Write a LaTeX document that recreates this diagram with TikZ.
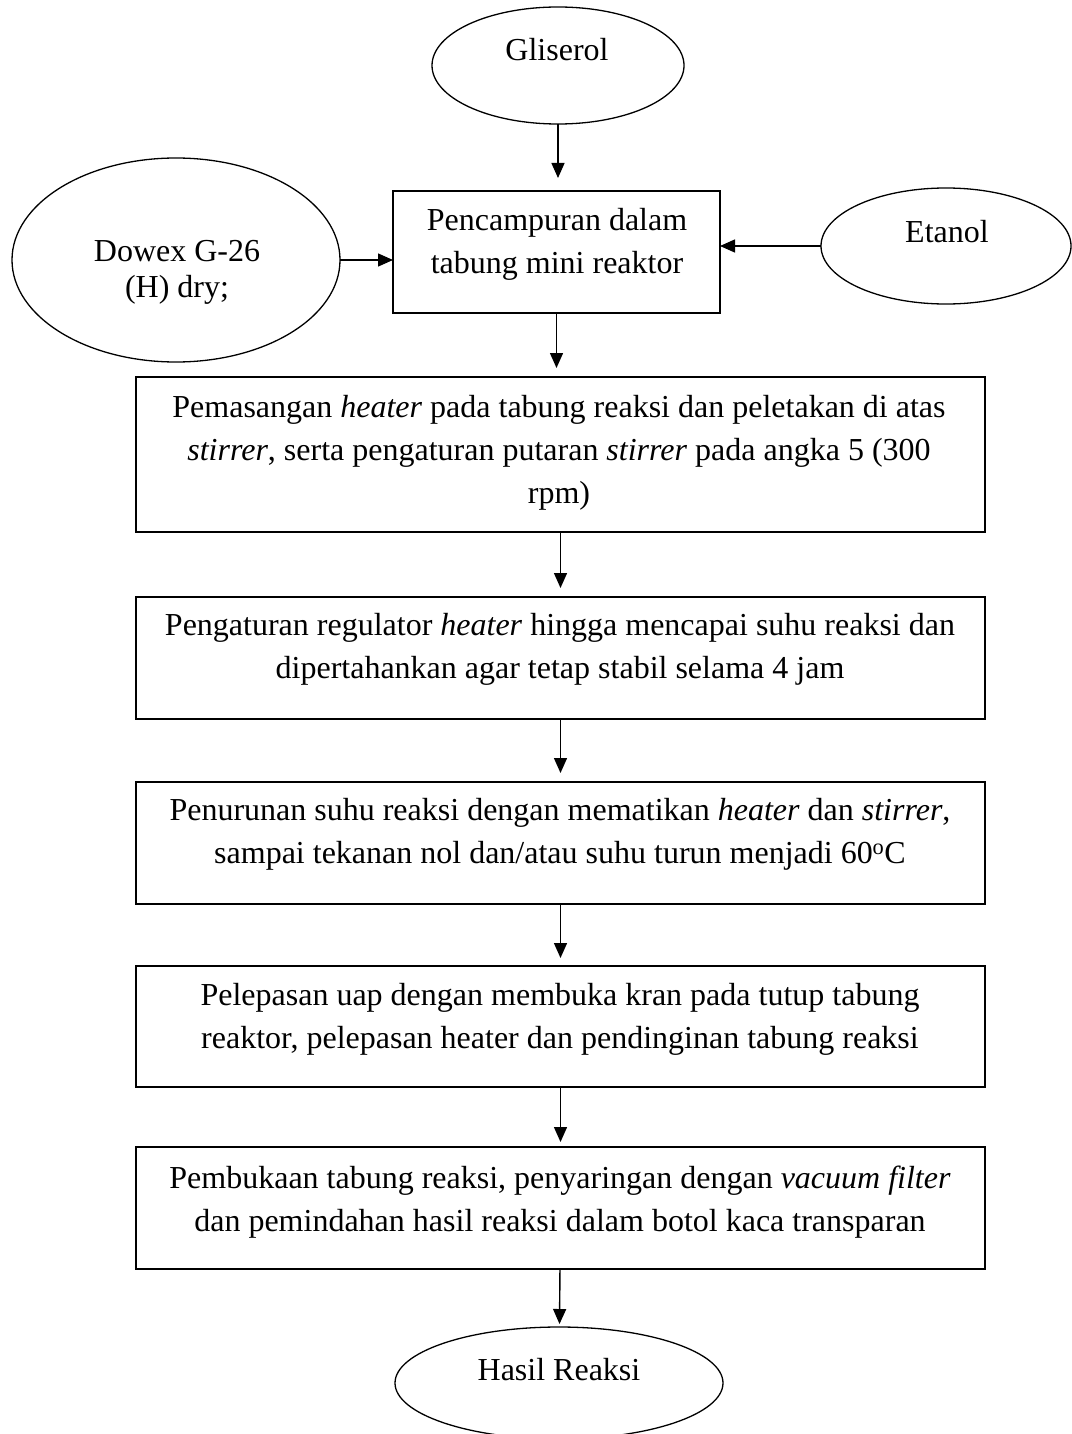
\documentclass[tikz,border=0pt]{standalone}
\usepackage{fontspec}
\setmainfont{Liberation Serif}
\usetikzlibrary{shapes.geometric,arrows.meta,calc}
\begin{document}
\begin{tikzpicture}[x=1pt,y=-1pt,
  every node/.style={inner sep=0pt, outer sep=0pt},
  box/.style={draw, line width=1.6pt, rectangle},
  oval/.style={draw, line width=1.3pt, ellipse},
  txt/.style={font=\fontsize{32}{43}\selectfont, align=center},
  arr/.style={line width=1.4pt, -{Triangle[length=15pt,width=13pt]}}]
\useasboundingbox (0,0) rectangle (1071,1434);
% shapes
\node[oval, minimum width=252, minimum height=117] (gl) at (558,65.5) {};
\node[oval, minimum width=328, minimum height=204] (dw) at (176,260) {};
\node[oval, minimum width=250, minimum height=116] (et) at (946,246) {};
\node[oval, minimum width=328, minimum height=112] (hs) at (559,1383) {};
\node[box, minimum width=327, minimum height=122] (b1) at (556.5,252) {};
\node[box, minimum width=849, minimum height=155] (b2) at (560.5,454.5) {};
\node[box, minimum width=849, minimum height=122] (b3) at (560.5,658) {};
\node[box, minimum width=849, minimum height=122] (b4) at (560.5,843) {};
\node[box, minimum width=849, minimum height=121] (b5) at (560.5,1026.5) {};
\node[box, minimum width=849, minimum height=122] (b6) at (560.5,1208) {};
% texts
\node[txt, anchor=base] (tgl) at (557,61) {Gliserol};
\node[txt, anchor=base] (tet) at (947,242) {Etanol};
\node[txt, anchor=base] (ths) at (559,1380) {Hasil Reaksi};
\node[txt, anchor=north, font=\fontsize{32}{36}\selectfont] (tdw) at (177,240) {Dowex G-26\\(H) dry;};
\node[txt, anchor=north] (tb1) at (557,208) {Pencampuran dalam\\tabung mini reaktor};
\node[txt, anchor=north] (tb2) at (559,395) {Pemasangan \textit{heater} pada tabung reaksi dan peletakan di atas\\\textit{stirrer}, serta pengaturan putaran \textit{stirrer} pada angka 5 (300\\rpm)};
\node[txt, anchor=north] (tb3) at (560,613) {Pengaturan regulator \textit{heater} hingga mencapai suhu reaksi dan\\dipertahankan agar tetap stabil selama 4 jam};
\node[txt, anchor=north] (tb4) at (560,798) {Penurunan suhu reaksi dengan mematikan \textit{heater} dan \textit{stirrer},\\sampai tekanan nol dan/atau suhu turun menjadi 60\textsuperscript{o}C};
\node[txt, anchor=north] (tb5) at (560,983) {Pelepasan uap dengan membuka kran pada tutup tabung\\reaktor, pelepasan heater dan pendinginan tabung reaksi};
\node[txt, anchor=north] (tb6) at (560,1166) {Pembukaan tabung reaksi, penyaringan dengan \textit{vacuum filter}\\dan pemindahan hasil reaksi dalam botol kaca transparan};
% connectors
\draw[arr, shorten >=13pt] (gl.south) -- (gl.south |- b1.north);
\draw[arr] (dw.east) -- (dw.east -| b1.west);
\draw[arr] (et.west) -- (et.west -| b1.east);
\draw[arr, shorten >=9pt] (b1.south) -- (b1.south |- b2.north);
\draw[arr, shorten >=9pt] (b2) -- (b3);
\draw[arr, shorten >=9pt] (b3) -- (b4);
\draw[arr, shorten >=8pt] (b4) -- (b5);
\draw[arr, shorten >=5pt] (b5) -- (b6);
\draw[arr, shorten >=3pt] (b6) -- (hs);
\end{tikzpicture}
\end{document}
